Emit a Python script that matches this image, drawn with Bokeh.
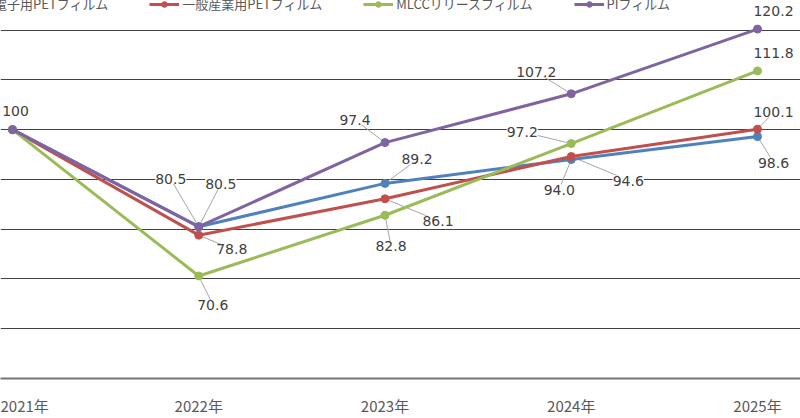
from bokeh.plotting import figure
from bokeh.models import (ColumnDataSource, LabelSet, Legend, LegendItem,
                          FixedTicker, Range1d)
from bokeh.core.properties import value
from bokeh.embed import file_html
from bokeh.resources import INLINE

# ---------------- data ----------------
years = [2021, 2022, 2023, 2024, 2025]
year_labels = ["2021年", "2022年", "2023年", "2024年", "2025年"]
series_names = ["電子用PETフィルム", "一般産業用PETフィルム", "MLCCリリースフィルム", "PIフィルム"]
pet_electronic = [100, 80.5, 89.2, 94.0, 98.6]
pet_industrial = [100, 78.8, 86.1, 94.6, 100.1]
mlcc_release = [100, 70.6, 82.8, 97.2, 111.8]
pi_film = [100, 80.5, 97.4, 107.2, 120.2]
grid_ticks = [50, 60, 70, 80, 90, 100, 110, 120, 130]

# ---------------- style ----------------
colors = ["#4F81BD", "#C0504D", "#9BBB59", "#8064A2"]
# label offsets in screen px (dx right, dy down) and whether to draw a leader line
label_style = [
    # blue
    [None, (-28, -48, True), (32, -24, True), (-12, 30, True), (16, 26, True)],
    # red
    [None, (33, 14, True), (53, 22, True), (57, 24, True), (16, -17, True)],
    # green
    [None, (14, 29, True), (6, 31, True), (-49, -12, True), (16, -18, False)],
    # purple
    [(3, -19, False), (22, -43, True), (-30, -23, True), (-35, -22, True), (16, -18, False)],
]

W, H = 800, 418
FRAME_H = 383
PX_PER_YEAR = 186.25
PX_PER_UNIT = 5.043
x_start = years[0] - 12 / PX_PER_YEAR
x_end = x_start + W / PX_PER_YEAR
y_start = 50
y_end = y_start + FRAME_H / PX_PER_UNIT

p = figure(width=W, height=H, output_backend="svg", toolbar_location=None,
           x_range=Range1d(x_start, x_end), y_range=Range1d(y_start, y_end),
           min_border_left=0, min_border_right=0, min_border_top=0,
           min_border_bottom=H - FRAME_H)
p.outline_line_color = None
p.background_fill_color = "white"
p.border_fill_color = "white"

p.yaxis.visible = False
p.yaxis.ticker = FixedTicker(ticks=grid_ticks)
p.ygrid.grid_line_color = "#404040"
p.ygrid.grid_line_width = 1
p.xgrid.visible = False

p.xaxis.ticker = FixedTicker(ticks=years)
p.xaxis.major_label_overrides = {y: l for y, l in zip(years, year_labels)}
p.xaxis.major_tick_line_color = None
p.xaxis.major_tick_out = 0
p.xaxis.major_tick_in = 0
p.xaxis.minor_tick_line_color = None
p.xaxis.axis_line_color = "#767676"
p.xaxis.axis_line_width = 2
p.xaxis.major_label_text_font = "Noto Sans CJK JP"
p.xaxis.major_label_text_font_size = "15px"
p.xaxis.major_label_text_color = "#595959"
p.xaxis.major_label_standoff = 16

all_series = [pet_electronic, pet_industrial, mlcc_release, pi_film]

# leader lines
lx0, ly0, lx1, ly1 = [], [], [], []
for vals, styles in zip(all_series, label_style):
    for x, v, st in zip(years, vals, styles):
        if st is not None and st[2]:
            lx0.append(x); ly0.append(v)
            lx1.append(x + st[0] / PX_PER_YEAR)
            ly1.append(v - st[1] / PX_PER_UNIT)
p.segment(lx0, ly0, lx1, ly1, line_color="#a6a6a6", line_width=1)

legend_items = []
for name, vals, col in zip(series_names, all_series, colors):
    src = ColumnDataSource(dict(x=years, y=vals))
    r1 = p.line("x", "y", source=src, line_color=col, line_width=3, line_join="round")
    r2 = p.scatter("x", "y", source=src, size=8, fill_color=col, line_color=col)
    legend_items.append(LegendItem(label=name, renderers=[r1, r2]))

# data labels
for vals, styles in zip(all_series, label_style):
    xs, ys, txt, xo, yo = [], [], [], [], []
    for x, v, st in zip(years, vals, styles):
        if st is None:
            continue
        xs.append(x); ys.append(v)
        txt.append(f"{v:.1f}" if v != 100 else "100")
        xo.append(st[0]); yo.append(-st[1])
    src = ColumnDataSource(dict(x=xs, y=ys, t=txt, xo=xo, yo=yo))
    ls = LabelSet(x="x", y="y", text="t", source=src, x_offset="xo", y_offset="yo",
                  text_align="center", text_baseline="middle",
                  text_font=value("DejaVu Sans"), text_font_size="14px",
                  text_color="#404040", background_fill_color="white")
    p.add_layout(ls)

legend = Legend(items=legend_items, orientation="horizontal", location=(-39, FRAME_H - 18),
                spacing=41, label_standoff=3, glyph_width=30, glyph_height=14,
                padding=0, margin=0, border_line_color=None, background_fill_alpha=0,
                label_text_font="Noto Sans CJK JP", label_text_font_size="13px",
                label_text_color="#595959")
p.add_layout(legend)

open("out.html", "w").write(file_html(p, INLINE))
